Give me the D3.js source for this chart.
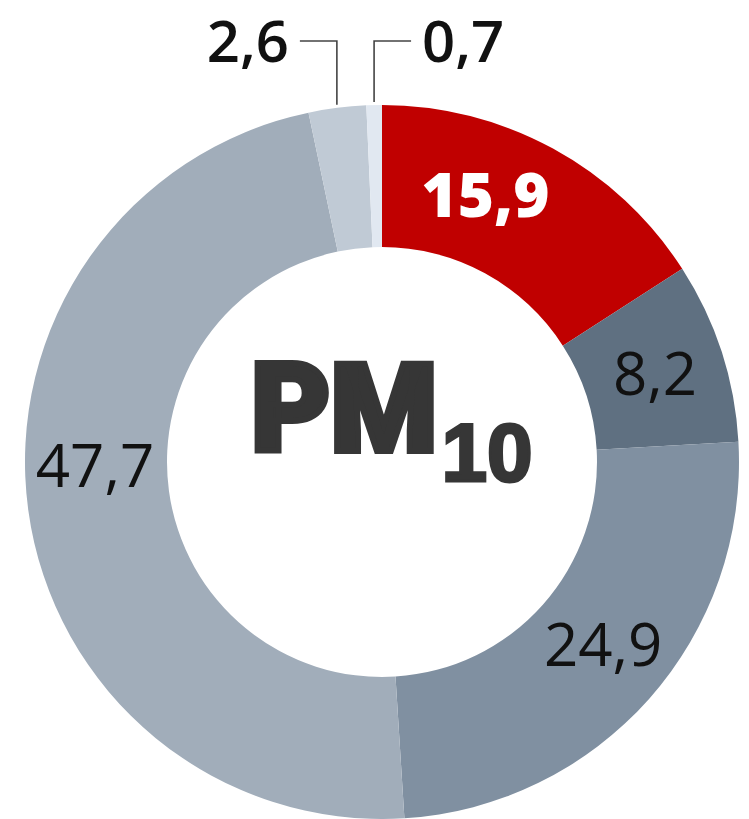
<!DOCTYPE html>
<html>
<head>
<meta charset="utf-8">
<script src="https://cdn.jsdelivr.net/npm/d3@7"></script>
<style>
  body { margin: 0; background: #fff; }
  svg { display: block; }
</style>
</head>
<body>
<div id="chart"></div>
<script>
// Chart data
const categories = ["A", "B", "C", "D", "E", "F"];
const values = [15.9, 8.2, 24.9, 47.7, 2.6, 0.7];
const labels = ["15,9", "8,2", "24,9", "47,7", "2,6", "0,7"];
const colors = ["#c00000", "#5f7081", "#8090a1", "#a1adba", "#c0cad5", "#e1e8f1"];

const width = 749;
const height = 819;
const cx = 382, cy = 462;
const outerR = 357, innerR = 215;

const svg = d3.select("#chart")
    .append("svg")
    .attr("width", width)
    .attr("height", height);

const g = svg.append("g").attr("transform", `translate(${cx},${cy})`);

const data = categories.map((c, i) => ({ cat: c, value: values[i], label: labels[i], color: colors[i] }));

const pie = d3.pie().sort(null).value(d => d.value);
const arc = d3.arc().innerRadius(innerR).outerRadius(outerR);
const arcs = pie(data);

g.selectAll("path.slice")
    .data(arcs)
    .join("path")
    .attr("class", "slice")
    .attr("d", arc)
    .attr("fill", d => d.data.color);

// label placement inside the ring (angle nudges in degrees)
const angleShift = { A: -7.5, B: 0, C: -2, D: 7, E: 0, F: 0 };
const labelR = 287;
const inside = arcs.filter(d => d.data.value > 5);

g.selectAll("text.val")
    .data(inside)
    .join("text")
    .attr("class", "val")
    .attr("x", d => {
        const a = (d.startAngle + d.endAngle) / 2 + angleShift[d.data.cat] * Math.PI / 180;
        return labelR * Math.sin(a);
    })
    .attr("y", d => {
        const a = (d.startAngle + d.endAngle) / 2 + angleShift[d.data.cat] * Math.PI / 180;
        return -labelR * Math.cos(a);
    })
    .attr("dy", "0.36em")
    .attr("text-anchor", "middle")
    .attr("font-family", "'Open Sans', 'Noto Sans', sans-serif")
    .attr("font-size", (d, i) => i === 0 ? 62 : 60)
    .attr("font-weight", (d, i) => i === 0 ? 800 : 400)
    .attr("fill", (d, i) => i === 0 ? "#fff" : "#111")
    .text(d => d.data.label);

// small slices: leader lines up to the top
const lineY = 41 - cy;
const outside = arcs.filter(d => d.data.value <= 5);

outside.forEach(d => {
    const a = (d.startAngle + d.endAngle) / 2;
    const x0 = (outerR + 3) * Math.sin(a);
    const y0 = -(outerR + 3) * Math.cos(a);
    const dir = d.data.cat === "E" ? -1 : 1;
    g.append("path")
        .attr("d", `M${x0},${y0} V${lineY} h${dir * 37}`)
        .attr("fill", "none")
        .attr("stroke", "#444")
        .attr("stroke-width", 1.6);
    g.append("text")
        .attr("x", x0 + dir * 48)
        .attr("y", lineY)
        .attr("dy", "0.36em")
        .attr("text-anchor", dir < 0 ? "end" : "start")
        .attr("font-family", "'Open Sans', 'Noto Sans', sans-serif")
        .attr("font-size", 58)
        .attr("font-weight", 600)
        .attr("fill", "#111")
        .text(d.data.label);
});

// centre title
const title = g.append("text")
    .attr("y", 451 - cy)
    .attr("fill", "#363636")
    .attr("stroke", "#363636")
    .attr("stroke-linejoin", "miter");
title.append("tspan")
    .attr("x", 251 - cx)
    .attr("font-family", "Roboto, 'Liberation Sans', sans-serif")
    .attr("font-weight", 900)
    .attr("font-size", 122)
    .attr("stroke-width", 6)
    .text("PM");
title.append("tspan")
    .attr("dy", 30)
    .attr("dx", 4)
    .attr("font-family", "'Liberation Sans Narrow', 'Liberation Sans', sans-serif")
    .attr("font-weight", 700)
    .attr("font-size", 82)
    .attr("stroke-width", 3)
    .text("10");
</script>
</body>
</html>
